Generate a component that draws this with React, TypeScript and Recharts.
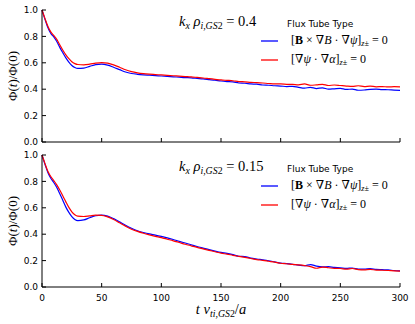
import React from 'react';
import { LineChart, Line, XAxis, YAxis, Legend } from 'recharts';

// time axis (t v_ti / a)
const times = [
  0, 2.5, 5, 7.5, 10, 12.5, 15, 17.5, 20, 22.5, 25, 27.5, 30,
  35, 40, 45, 50, 55, 60, 65, 70, 75, 80, 85, 90, 95, 100,
  105, 110, 115, 120, 125, 130, 135, 140, 145, 150,
  155, 160, 165, 170, 175, 180, 185, 190, 195, 200,
  205, 210, 215, 220, 225, 230, 235, 240, 245, 250,
  255, 260, 265, 270, 275, 280, 285, 290, 295, 300,
];

// k_x rho = 0.4
const bGradBHigh = [
  1.0, 0.93, 0.865, 0.82, 0.795, 0.76, 0.715, 0.675, 0.637, 0.605, 0.58, 0.565, 0.558,
  0.56, 0.573, 0.586, 0.59, 0.582, 0.566, 0.548, 0.53, 0.519, 0.513, 0.509, 0.506, 0.503, 0.5,
  0.497, 0.494, 0.491, 0.488, 0.486, 0.482, 0.478, 0.473, 0.468, 0.462,
  0.458, 0.455, 0.447, 0.445, 0.44, 0.438, 0.432, 0.43, 0.426, 0.424,
  0.42, 0.422, 0.414, 0.408, 0.414, 0.405, 0.41, 0.4, 0.403, 0.406,
  0.398, 0.401, 0.392, 0.394, 0.399, 0.401, 0.397, 0.396, 0.393, 0.391,
];
const psiAlphaHigh = [
  1.0, 0.935, 0.875, 0.832, 0.805, 0.775, 0.735, 0.695, 0.66, 0.632, 0.608, 0.594, 0.587,
  0.585, 0.59, 0.598, 0.602, 0.597, 0.584, 0.566, 0.547, 0.533, 0.524, 0.518, 0.514, 0.511, 0.508,
  0.505, 0.502, 0.499, 0.496, 0.493, 0.489, 0.485, 0.48, 0.475, 0.47,
  0.467, 0.464, 0.458, 0.456, 0.452, 0.45, 0.447, 0.443, 0.44, 0.44,
  0.437, 0.436, 0.433, 0.44, 0.43, 0.433, 0.437, 0.428, 0.432, 0.428,
  0.424, 0.421, 0.426, 0.42, 0.424, 0.418, 0.42, 0.417, 0.419, 0.418,
];

// k_x rho = 0.15
const bGradBLow = [
  1.0, 0.93, 0.865, 0.822, 0.79, 0.752, 0.705, 0.655, 0.605, 0.565, 0.533, 0.512, 0.503,
  0.508, 0.525, 0.54, 0.545, 0.537, 0.518, 0.494, 0.468, 0.445, 0.426, 0.413, 0.402, 0.393, 0.383,
  0.372, 0.36, 0.346, 0.333, 0.32, 0.307, 0.295, 0.283, 0.272, 0.262,
  0.255, 0.245, 0.233, 0.23, 0.219, 0.212, 0.206, 0.199, 0.19, 0.181,
  0.177, 0.172, 0.166, 0.161, 0.17, 0.158, 0.152, 0.154, 0.148, 0.146,
  0.141, 0.144, 0.136, 0.135, 0.139, 0.133, 0.131, 0.129, 0.125, 0.122,
];
const psiAlphaLow = [
  1.0, 0.935, 0.875, 0.835, 0.805, 0.772, 0.733, 0.69, 0.645, 0.603, 0.57, 0.548, 0.537,
  0.534, 0.539, 0.544, 0.543, 0.531, 0.511, 0.486, 0.461, 0.438, 0.421, 0.407, 0.395, 0.384, 0.374,
  0.362, 0.35, 0.337, 0.324, 0.312, 0.3, 0.289, 0.278, 0.267, 0.256,
  0.249, 0.24, 0.232, 0.224, 0.216, 0.208, 0.202, 0.195, 0.188, 0.18,
  0.176, 0.171, 0.167, 0.162, 0.155, 0.142, 0.151, 0.146, 0.141, 0.14,
  0.135, 0.14, 0.132, 0.13, 0.133, 0.128, 0.127, 0.125, 0.122, 0.12,
];

const xTicks = [0, 50, 100, 150, 200, 250, 300];
const yTicks = [0, 0.2, 0.4, 0.6, 0.8, 1.0];

const highData = times.map((t, i) => ({ t, bgradb: bGradBHigh[i], psialpha: psiAlphaHigh[i] }));
const lowData = times.map((t, i) => ({ t, bgradb: bGradBLow[i], psialpha: psiAlphaLow[i] }));

const serif = '"Liberation Serif", "DejaVu Serif", serif';
const sans = '"DejaVu Sans", sans-serif';
const tickStyle = { fontFamily: sans, fontSize: 9, fill: '#000' };
const subStyle: React.CSSProperties = { fontSize: '0.68em', verticalAlign: '-0.3em' };

const seriesKeys = ['bgradb', 'psialpha'];
const seriesColors: Record<string, string> = { bgradb: '#0000ff', psialpha: '#ff0000' };

const legendLabels: Record<string, React.ReactNode> = {
  bgradb: (
    <span>
      [<b>B</b> × ∇<i>B</i> · ∇<i>ψ</i>]<span style={subStyle}><i>z</i>±</span> = 0
    </span>
  ),
  psialpha: (
    <span>
      [∇<i>ψ</i> · ∇<i>α</i>]<span style={subStyle}><i>z</i>±</span> = 0
    </span>
  ),
};

function FluxLegend() {
  return (
    <div style={{ width: 150 }}>
      <div style={{ fontFamily: sans, fontSize: 9, lineHeight: '14px', paddingLeft: 29 }}>Flux Tube Type</div>
      {seriesKeys.map((key) => (
        <div key={key} style={{ display: 'flex', alignItems: 'center', height: 19 }}>
          <svg width={20} height={6} style={{ display: 'block' }}>
            <line x1={3} x2={20} y1={3} y2={3} stroke={seriesColors[key]} strokeWidth={1.3} />
          </svg>
          <div style={{ marginLeft: 13, fontFamily: serif, fontSize: 12, whiteSpace: 'nowrap' }}>
            {legendLabels[key]}
          </div>
        </div>
      ))}
    </div>
  );
}

interface PanelProps {
  data: { t: number; bgradb: number; psialpha: number }[];
  top: number;
  height: number;
  kValue: string;
  bottomLabels: boolean;
}

function FluxPanel({ data, top, height, kValue, bottomLabels }: PanelProps) {
  const plotMid = 10 + (height - 10 - (bottomLabels ? 30 : 8)) / 2;
  return (
    <div style={{ position: 'absolute', left: 0, top, width: 415, height }}>
      <LineChart width={415} height={height} data={data} margin={{ top: 10, right: 15, left: 0, bottom: 0 }}>
        <XAxis
          xAxisId="b"
          dataKey="t"
          type="number"
          domain={[0, 300]}
          ticks={xTicks}
          height={bottomLabels ? 30 : 8}
          tickSize={-4}
          tickMargin={12}
          tick={tickStyle}
          tickFormatter={(v) => (bottomLabels ? String(v) : '')}
          axisLine={{ stroke: '#000' }}
          tickLine={{ stroke: '#000' }}
        />
        <XAxis
          xAxisId="t"
          orientation="top"
          dataKey="t"
          type="number"
          domain={[0, 300]}
          ticks={xTicks}
          height={0}
          tickSize={-4}
          tickFormatter={() => ''}
          axisLine={{ stroke: '#000' }}
          tickLine={{ stroke: '#000' }}
        />
        <YAxis
          yAxisId="l"
          type="number"
          domain={[0, 1]}
          ticks={yTicks}
          width={42}
          tickSize={-4}
          tickMargin={8}
          tick={tickStyle}
          tickFormatter={(v) => v.toFixed(1)}
          axisLine={{ stroke: '#000' }}
          tickLine={{ stroke: '#000' }}
        />
        <YAxis
          yAxisId="r"
          orientation="right"
          type="number"
          domain={[0, 1]}
          ticks={yTicks}
          width={0}
          tickSize={-4}
          tickFormatter={() => ''}
          axisLine={{ stroke: '#000' }}
          tickLine={{ stroke: '#000' }}
        />
        <Line xAxisId="b" yAxisId="l" type="monotone" dataKey="bgradb" stroke={seriesColors.bgradb} strokeWidth={1.2} dot={false} isAnimationActive={false} />
        <Line xAxisId="b" yAxisId="l" type="monotone" dataKey="psialpha" stroke={seriesColors.psialpha} strokeWidth={1.2} dot={false} isAnimationActive={false} />
        <Legend
          layout="vertical"
          align="center"
          verticalAlign="middle"
          wrapperStyle={{ left: 258, top: 17, width: 150 }}
          content={() => <FluxLegend />}
        />
      </LineChart>
      <div
        style={{
          position: 'absolute', left: 12.5, top: plotMid, transform: 'translate(-50%, -50%) rotate(-90deg)',
          fontFamily: serif, fontSize: 13, whiteSpace: 'nowrap',
        }}
      >
        Φ(<i>t</i>)/Φ(0)
      </div>
      <div style={{ position: 'absolute', left: 179, top: 13, fontFamily: serif, fontSize: 14.5, whiteSpace: 'nowrap' }}>
        <i>k</i><span style={subStyle}><i>x</i></span> <i>ρ</i><span style={subStyle}><i>i,GS</i>2</span> = {kValue}
      </div>
      {bottomLabels && (
        <div
          style={{
            position: 'absolute', left: 221, top: height - 7, transform: 'translate(-50%, -50%)',
            fontFamily: serif, fontSize: 14.5, whiteSpace: 'nowrap',
          }}
        >
          <i>t</i> <i>v</i><span style={subStyle}><i>ti,GS</i>2</span>/<i>a</i>
        </div>
      )}
    </div>
  );
}

export default function App() {
  return (
    <div style={{ position: 'absolute', left: 0, top: 0, width: 415, height: 324, background: '#fff' }}>
      <FluxPanel data={highData} top={0} height={150} kValue="0.4" bottomLabels={false} />
      <FluxPanel data={lowData} top={145} height={172} kValue="0.15" bottomLabels />
    </div>
  );
}
